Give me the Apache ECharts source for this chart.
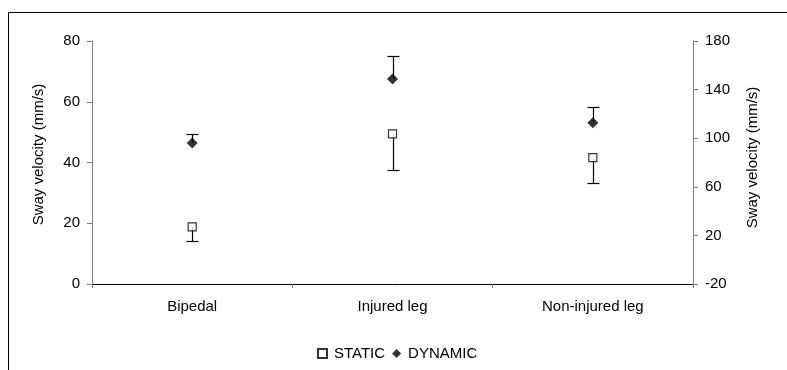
<!DOCTYPE html>
<html>
<head>
<meta charset="utf-8">
<style>
html,body{margin:0;padding:0;background:#fff;}
#chart{width:787px;height:370px;}
</style>
<script src="https://cdn.jsdelivr.net/npm/echarts@6/dist/echarts.min.js"></script>
</head>
<body>
<div id="chart"></div>
<script>
const categories = ['Bipedal', 'Injured leg', 'Non-injured leg'];
const staticMean = [18.8, 49.4, 41.6];
const staticLower = [14.2, 37.5, 33.1];
const dynamicMean = [46.4, 67.5, 53.1];
const dynamicUpper = [49.4, 75.2, 58.4];
const rightTickOffset = -20; // right axis labels: -20 .. 180

const FONT = 'Liberation Sans, Arial, sans-serif';

function errRender(params, api) {
  const x = api.value(0), m = api.value(1), e = api.value(2);
  const p1 = api.coord([x, m]);
  const p2 = api.coord([x, e]);
  const cx = Math.round(p1[0]) + 0.5;
  const ye = Math.round(p2[1]) + 0.5;
  const w = 6;
  return {
    type: 'group',
    children: [
      {type: 'line', shape: {x1: cx, y1: p1[1], x2: cx, y2: ye}, style: {stroke: '#000', lineWidth: 1.2}},
      {type: 'line', shape: {x1: cx - w, y1: ye, x2: cx + w, y2: ye}, style: {stroke: '#000', lineWidth: 1.2}}
    ]
  };
}

const chart = echarts.init(document.getElementById('chart'));
chart.setOption({
  animation: false,
  backgroundColor: '#fff',
  textStyle: {fontFamily: FONT},
  graphic: [{
    type: 'rect', z: -10,
    shape: {x: 8.5, y: 12.5, width: 900, height: 500},
    style: {fill: 'none', stroke: '#000', lineWidth: 1}
  }],
  grid: {left: 92, right: 94, top: 41, bottom: 86},
  legend: {
    data: ['STATIC', 'DYNAMIC'],
    left: 312, top: 341,
    itemWidth: 9, itemHeight: 9, itemGap: 7,
    textStyle: {fontFamily: FONT, fontSize: 15, color: '#000', padding: [0, 0, 0, 2]}
  },
  xAxis: {
    type: 'category',
    data: categories,
    axisLine: {lineStyle: {color: '#000', width: 1}},
    axisTick: {show: true, length: 4, lineStyle: {color: '#808080'}},
    axisLabel: {fontFamily: FONT, fontSize: 15, color: '#000', margin: 15},
    splitLine: {show: false}
  },
  yAxis: [{
    type: 'value', min: 0, max: 80, interval: 20, position: 'left',
    name: 'Sway velocity (mm/s)', nameLocation: 'middle', nameGap: 46, nameRotate: 90,
    nameTextStyle: {fontFamily: FONT, fontSize: 15, color: '#000', padding: [0, 0, 0, 16]},
    axisLine: {show: true, lineStyle: {color: '#808080', width: 1}},
    axisTick: {show: true, length: 5, lineStyle: {color: '#808080'}},
    axisLabel: {fontFamily: FONT, fontSize: 15, color: '#000', margin: 12},
    splitLine: {show: false}
  }, {
    type: 'value', min: 0, max: 200, interval: 40, position: 'right',
    name: 'Sway velocity (mm/s)', nameLocation: 'middle', nameGap: 52, nameRotate: 90,
    nameTextStyle: {fontFamily: FONT, fontSize: 15, color: '#000', padding: [0, 0, 0, 10]},
    axisLine: {show: true, lineStyle: {color: '#808080', width: 1}},
    axisTick: {show: true, length: 5, lineStyle: {color: '#808080'}},
    axisLabel: {fontFamily: FONT, fontSize: 15, color: '#000', margin: 12,
      formatter: v => String(v + rightTickOffset)},
    splitLine: {show: false}
  }],
  series: [
    {
      name: 'STATIC err', type: 'custom', renderItem: errRender, z: 2,
      data: staticMean.map((v, i) => [i, v, staticLower[i]]),
      encode: {x: 0, y: [1, 2]}
    },
    {
      name: 'DYNAMIC err', type: 'custom', renderItem: errRender, z: 2,
      data: dynamicMean.map((v, i) => [i, v, dynamicUpper[i]]),
      encode: {x: 0, y: [1, 2]}
    },
    {
      name: 'STATIC', type: 'scatter', symbol: 'rect', symbolSize: 8, z: 5,
      itemStyle: {color: '#fff', borderColor: '#000', borderWidth: 1.2},
      data: staticMean.map((v, i) => [i, v])
    },
    {
      name: 'DYNAMIC', type: 'scatter', symbol: 'diamond', symbolSize: [11, 11], z: 5,
      itemStyle: {color: '#000'},
      data: dynamicMean.map((v, i) => [i, v])
    }
  ]
});
</script>
</body>
</html>
